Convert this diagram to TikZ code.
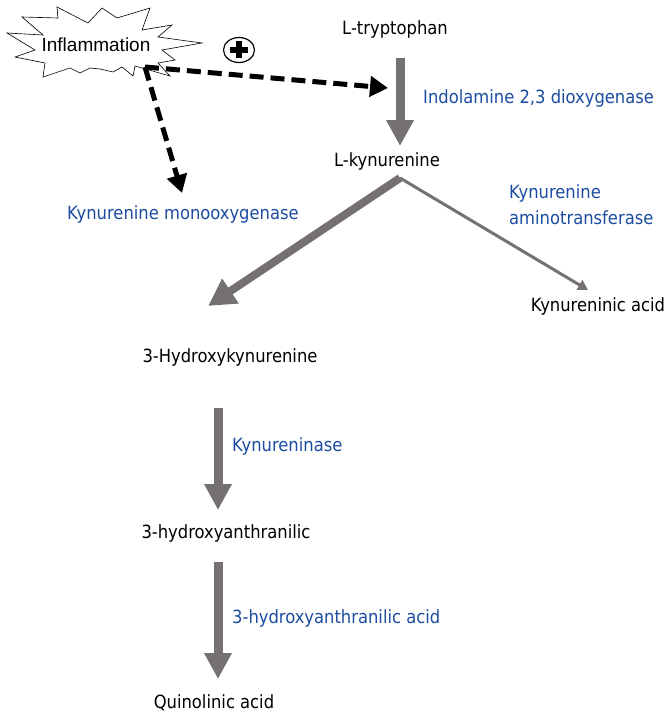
\documentclass[tikz,border=0pt]{standalone}
\usepackage{fontspec}
\setmainfont{DejaVu Sans Condensed}
\newfontfamily\arialfont{Liberation Sans}
\usetikzlibrary{arrows.meta,shapes.geometric}

\definecolor{pathgray}{RGB}{118,113,113}
\definecolor{enzblue}{RGB}{28,76,160}

\tikzset{
  metab/.style = {inner sep=0pt, font=\fontsize{18.2}{21}\selectfont},
  enzyme/.style = {metab, anchor=west, text=enzblue, align=left},
  flow/.style = {draw=pathgray, line width=9pt, -{Triangle[width=26pt,length=26pt]}, pathgray},
  induce/.style = {draw=black, line width=5pt, dash pattern=on 14pt off 7pt, -{Triangle[width=20pt,length=18pt]}}
}

\begin{document}
\begin{tikzpicture}[x=1pt,y=-1pt]
	\useasboundingbox (0,0) rectangle (666,717);

	% starburst around the trigger
	\filldraw[fill=white, draw=black, line width=0.6pt]
		(7,33) -- (43,35) -- (22,17) -- (58,18) -- (57,7) -- (88,23) -- (102,8)
		-- (117,18) -- (150,8) -- (142,30) -- (172,25) -- (158,37) -- (202,43)
		-- (162,50) -- (175,60) -- (158,63) -- (170,76) -- (135,66) -- (133,76)
		-- (122,67) -- (113,72) -- (100,69) -- (90,68) -- (80,73) -- (70,68)
		-- (43,77) -- (45,63) -- (15,57) -- (35,50) -- cycle;
	\node[inner sep=0pt, font=\arialfont\fontsize{19}{21}\selectfont] (infl) at (96,45) {Inflammation};

	% metabolites
	\node[metab] (trp) at (395,29) {L-tryptophan};
	\node[metab] (kyn) at (387,161) {L-kynurenine};
	\node[metab] (kyna) at (598,306) {Kynureninic acid};
	\node[metab] (hk) at (230,357) {3-Hydroxykynurenine};
	\node[metab] (haa) at (226,533) {3-hydroxyanthranilic};
	\node[metab] (quin) at (214,703) {Quinolinic acid};

	% enzymes
	\node[enzyme] (ido) at (423,98) {Indolamine 2,3 dioxygenase};
	\node[enzyme, anchor=center] (kmo) at (183,214) {Kynurenine monooxygenase};
	\node[enzyme] (kat) at (509,205) {Kynurenine\\[5pt]aminotransferase};
	\node[enzyme] (kynu) at (232,446) {Kynureninase};
	\node[enzyme] (haao) at (232,618) {3-hydroxyanthranilic acid};

	% arrow ends
	\coordinate (trpout) at (400,58);
	\coordinate (kynin) at (400,146);
	\coordinate (kynout) at (400,178);
	\coordinate (hkin) at (208,306);
	\coordinate (kynain) at (588,290);
	\coordinate (hkout) at (218,408);
	\coordinate (haain) at (218,510);
	\coordinate (haaout) at (218,562);
	\coordinate (quinin) at (218,679);
	\coordinate (burst) at (145,67);
	\coordinate (idotip) at (388,88);
	\coordinate (kmotip) at (182,193);

	% pathway
	\draw[flow] (trpout) -- (kynin);
	\draw[flow, line width=8pt, -{Triangle[width=28pt,length=27pt]}] (kynout) -- (hkin);
	\draw[flow, line width=3pt, -{Triangle[width=11pt,length=10pt]}] (kynout) -- (kynain);
	\draw[flow] (hkout) -- (haain);
	\draw[flow] (haaout) -- (quinin);

	% induction by inflammation
	\draw[induce] (burst) -- (idotip);
	\draw[induce] (burst) -- (kmotip);
	\node[draw, ellipse, line width=1.2pt, minimum width=31pt, minimum height=25pt, inner sep=0pt] (plus) at (239,50) {};
	\draw[line width=6pt] ([xshift=-9pt]plus.center) -- ([xshift=9pt]plus.center);
	\draw[line width=6pt] ([yshift=-8.5pt]plus.center) -- ([yshift=8.5pt]plus.center);
\end{tikzpicture}
\end{document}
